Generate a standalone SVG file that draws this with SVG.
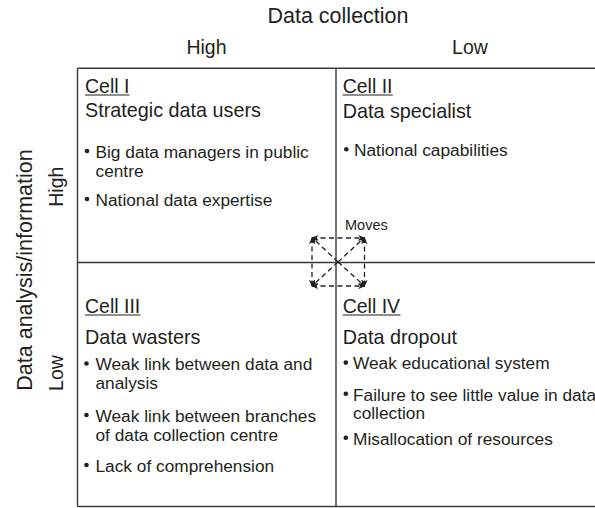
<svg xmlns="http://www.w3.org/2000/svg" width="595" height="508" viewBox="0 0 595 508">
<style>
text{font-family:"Liberation Sans",Arial,sans-serif;fill:#231f20}
.axis{font-size:21.5px}
.lvl{font-size:19.5px}
.cell{font-size:19.5px}
.head{font-size:19.8px}
.item{font-size:17.3px}
.grid{stroke:#3a3a3a;stroke-width:1.4;fill:none}
.ul{stroke:#231f20;stroke-width:1.2}
.dot{fill:#231f20}
.mv{stroke:#231f20;stroke-width:1.3;stroke-dasharray:5 3.5;fill:none}
</style>
<defs>
<marker id="ah" viewBox="0 0 10 10" refX="9" refY="5" markerWidth="7" markerHeight="7" orient="auto-start-reverse" markerUnits="userSpaceOnUse">
<path d="M0,0.5 L10,5 L0,9.5 L3,5 Z" fill="#231f20"/>
</marker>
</defs>
<g id="axes">
<text class="axis" x="338" y="23" text-anchor="middle">Data collection</text>
<text class="lvl" x="206.5" y="54.3" text-anchor="middle">High</text>
<text class="lvl" x="470" y="54.3" text-anchor="middle">Low</text>
<text class="axis" transform="translate(31.7,270) rotate(-90)" text-anchor="middle">Data analysis/information</text>
<text class="lvl" transform="translate(62.7,186.7) rotate(-90)" text-anchor="middle">High</text>
<text class="lvl" transform="translate(62.7,373) rotate(-90)" text-anchor="middle">Low</text>
</g>
<g id="grid">
<path class="grid" d="M77.5,68.3 H595 M77.5,506.5 H595 M77.5,68.3 V506.5 M77.5,262.5 H595 M336,68.3 V506.5"/>
</g>
<g id="cell1">
<text class="cell" x="85" y="92.5">Cell I</text>
<line class="ul" x1="85" y1="95" x2="129.5" y2="95"/>
<text class="head" x="85" y="117.3">Strategic data users</text>
<circle class="dot" cx="87" cy="151" r="2.3"/>
<text class="item" x="95.5" y="157.7">Big data managers in public</text>
<text class="item" x="95.5" y="176.7">centre</text>
<circle class="dot" cx="87" cy="199" r="2.3"/>
<text class="item" x="95.5" y="205.7">National data expertise</text>
</g>
<g id="cell2">
<text class="cell" x="342.7" y="92.5">Cell II</text>
<line class="ul" x1="342.7" y1="95" x2="392.8" y2="95"/>
<text class="head" x="342.7" y="117.8">Data specialist</text>
<circle class="dot" cx="346.3" cy="149.3" r="2.3"/>
<text class="item" x="354" y="156">National capabilities</text>
</g>
<g id="cell3">
<text class="cell" x="85" y="312.5">Cell III</text>
<line class="ul" x1="85" y1="315" x2="140.5" y2="315"/>
<text class="head" x="85" y="344">Data wasters</text>
<circle class="dot" cx="86.5" cy="363.5" r="2.3"/>
<text class="item" x="95.5" y="370">Weak link between data and</text>
<text class="item" x="95.5" y="389.3">analysis</text>
<circle class="dot" cx="86.5" cy="415" r="2.3"/>
<text class="item" x="95.5" y="421.7">Weak link between branches</text>
<text class="item" x="95.5" y="440.7">of data collection centre</text>
<circle class="dot" cx="86.5" cy="465" r="2.3"/>
<text class="item" x="95.5" y="471.7">Lack of comprehension</text>
</g>
<g id="cell4">
<text class="cell" x="342.7" y="312.5">Cell IV</text>
<line class="ul" x1="342.7" y1="315" x2="400.5" y2="315"/>
<text class="head" x="342.7" y="344">Data dropout</text>
<circle class="dot" cx="345.8" cy="362.6" r="2.3"/>
<text class="item" x="353" y="369.3">Weak educational system</text>
<circle class="dot" cx="345.8" cy="393.8" r="2.3"/>
<text class="item" x="353" y="400.5">Failure to see little value in data</text>
<text class="item" x="353" y="419">collection</text>
<circle class="dot" cx="345.8" cy="437.8" r="2.3"/>
<text class="item" x="353" y="444.5">Misallocation of resources</text>
</g>
<g id="moves">
<text x="345" y="230" style="font-size:14.5px">Moves</text>
<g id="connectors">
<line class="mv" x1="338" y1="262" x2="312" y2="237.5" marker-end="url(#ah)"/>
<line class="mv" x1="338" y1="262" x2="364.5" y2="237.5" marker-end="url(#ah)"/>
<line class="mv" x1="338" y1="262" x2="312" y2="286" marker-end="url(#ah)"/>
<line class="mv" x1="338" y1="262" x2="364.5" y2="286" marker-end="url(#ah)"/>
<line class="mv" x1="312" y1="238" x2="364.5" y2="238" marker-start="url(#ah)" marker-end="url(#ah)"/>
<line class="mv" x1="312" y1="286" x2="364.5" y2="286" marker-start="url(#ah)" marker-end="url(#ah)"/>
<line class="mv" x1="312" y1="238" x2="312" y2="286" marker-start="url(#ah)" marker-end="url(#ah)"/>
<line class="mv" x1="364.5" y1="238" x2="364.5" y2="286" marker-start="url(#ah)" marker-end="url(#ah)"/>
</g>
</g>
</svg>
